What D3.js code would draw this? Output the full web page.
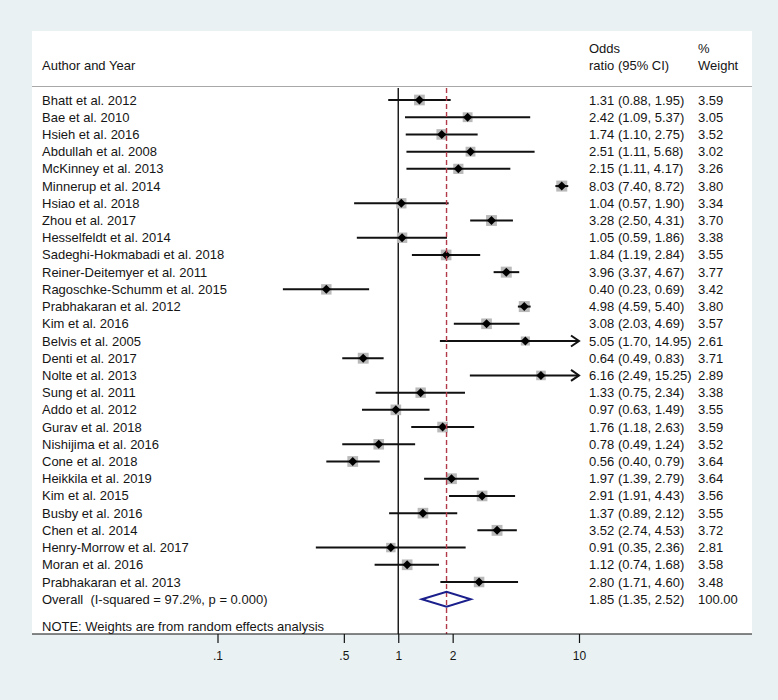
<!DOCTYPE html>
<html>
<head>
<meta charset="utf-8">
<script src="https://cdn.jsdelivr.net/npm/d3@7"></script>
<style>
  html, body { margin: 0; padding: 0; background: #e9f1f3; }
  svg { display: block; }
  text { font-family: "Liberation Sans", Arial, sans-serif; fill: #151515; white-space: pre; }
</style>
</head>
<body>
<svg id="chart" width="778" height="700"></svg>
<script>
const studies = ["Bhatt et al. 2012","Bae et al. 2010","Hsieh et al. 2016","Abdullah et al. 2008","McKinney et al. 2013","Minnerup et al. 2014","Hsiao et al. 2018","Zhou et al. 2017","Hesselfeldt et al. 2014","Sadeghi-Hokmabadi et al. 2018","Reiner-Deitemyer et al. 2011","Ragoschke-Schumm et al. 2015","Prabhakaran et al. 2012","Kim et al. 2016","Belvis et al. 2005","Denti et al. 2017","Nolte et al. 2013","Sung et al. 2011","Addo et al. 2012","Gurav et al. 2018","Nishijima et al. 2016","Cone et al. 2018","Heikkila et al. 2019","Kim et al. 2015","Busby et al. 2016","Chen et al. 2014","Henry-Morrow et al. 2017","Moran et al. 2016","Prabhakaran et al. 2013"];
const oddsRatio = [1.31,2.42,1.74,2.51,2.15,8.03,1.04,3.28,1.05,1.84,3.96,0.40,4.98,3.08,5.05,0.64,6.16,1.33,0.97,1.76,0.78,0.56,1.97,2.91,1.37,3.52,0.91,1.12,2.80];
const lower = [0.88,1.09,1.10,1.11,1.11,7.40,0.57,2.50,0.59,1.19,3.37,0.23,4.59,2.03,1.70,0.49,2.49,0.75,0.63,1.18,0.49,0.40,1.39,1.91,0.89,2.74,0.35,0.74,1.71];
const upper = [1.95,5.37,2.75,5.68,4.17,8.72,1.90,4.31,1.86,2.84,4.67,0.69,5.40,4.69,14.95,0.83,15.25,2.34,1.49,2.63,1.24,0.79,2.79,4.43,2.12,4.53,2.36,1.68,4.60];
const weights = [3.59,3.05,3.52,3.02,3.26,3.80,3.34,3.70,3.38,3.55,3.77,3.42,3.80,3.57,2.61,3.71,2.89,3.38,3.55,3.59,3.52,3.64,3.64,3.56,3.55,3.72,2.81,3.58,3.48];
const overall = {label: "Overall  (I-squared = 97.2%, p = 0.000)", or: 1.85, lo: 1.35, hi: 2.52, w: 100.00};
const tickValues = [0.1, 0.5, 1, 2, 10];
const tickLabels = [".1", ".5", "1", "2", "10"];
const note = "NOTE: Weights are from random effects analysis";

const svg = d3.select("#chart");
const panel = {x0: 32, x1: 752, y0: 31, y1: 634};
const fmt = d3.format(".2f");

// panel
svg.append("rect").attr("x", panel.x0).attr("y", panel.y0)
  .attr("width", panel.x1 - panel.x0).attr("height", panel.y1 - panel.y0).attr("fill", "#fff");

const x = d3.scaleLog().domain([0.1, 10]).range([217.5, 579]);
const y = d3.scaleLinear().domain([0, 28]).range([100, 582]);
const boxSize = d3.scaleSqrt().domain([0, 3.8]).range([0, 11]);

const colOR = 589, colW = 698, colLabel = 42;

// header
svg.append("text").attr("x", colLabel).attr("y", 70).attr("font-size", 13).text("Author and Year");
svg.append("text").attr("x", colOR).attr("y", 53).attr("font-size", 13).text("Odds");
svg.append("text").attr("x", colOR).attr("y", 70).attr("font-size", 13).text("ratio (95% CI)");
svg.append("text").attr("x", colW).attr("y", 53).attr("font-size", 13).text("%");
svg.append("text").attr("x", colW).attr("y", 70).attr("font-size", 13).text("Weight");
svg.append("line").attr("x1", panel.x0).attr("x2", panel.x1).attr("y1", 86.5).attr("y2", 86.5)
  .attr("stroke", "#a8a8a8").attr("stroke-width", 1.2);

// reference line at 1
svg.append("line").attr("x1", x(1)).attr("x2", x(1)).attr("y1", 88).attr("y2", panel.y1)
  .attr("stroke", "#111").attr("stroke-width", 1.4);

const rows = studies.map((s, i) => ({label: s, or: oddsRatio[i], lo: lower[i], hi: upper[i], w: weights[i], i}));
const xmin = 0.1, xmax = 10;

// boxes
svg.append("g").selectAll("rect").data(rows).join("rect")
  .attr("x", d => x(d.or) - boxSize(d.w) / 2)
  .attr("y", d => y(d.i) - boxSize(d.w) / 2)
  .attr("width", d => boxSize(d.w)).attr("height", d => boxSize(d.w))
  .attr("fill", "#b9b9b9");

// CI lines
svg.append("g").selectAll("line").data(rows).join("line")
  .attr("x1", d => x(Math.max(d.lo, xmin)))
  .attr("x2", d => x(Math.min(d.hi, xmax)))
  .attr("y1", d => y(d.i)).attr("y2", d => y(d.i))
  .attr("stroke", "#111").attr("stroke-width", 2);

// arrows for clipped
const arrows = rows.filter(d => d.hi > xmax);
svg.append("g").selectAll("path").data(arrows).join("path")
  .attr("d", d => {
    const xe = x(xmax), yy = y(d.i);
    return `M${xe - 8},${yy - 5.5}L${xe},${yy}L${xe - 8},${yy + 5.5}`;
  })
  .attr("fill", "none").attr("stroke", "#111").attr("stroke-width", 2);

// diamond markers
svg.append("g").selectAll("path").data(rows).join("path")
  .attr("d", d => {
    const cx = x(d.or), cy = y(d.i), r = 4.5;
    return `M${cx - r},${cy}L${cx},${cy - r}L${cx + r},${cy}L${cx},${cy + r}Z`;
  })
  .attr("fill", "#000");

// overall dashed line
svg.append("line").attr("x1", x(overall.or)).attr("x2", x(overall.or)).attr("y1", 88).attr("y2", panel.y1)
  .attr("stroke", "#b03a48").attr("stroke-width", 1.4).attr("stroke-dasharray", "5,3");

// overall diamond
const yo = y(29);
svg.append("path")
  .attr("d", `M${x(overall.lo)},${yo}L${x(overall.or)},${yo - 7.5}L${x(overall.hi)},${yo}L${x(overall.or)},${yo + 7.5}Z`)
  .attr("fill", "none").attr("stroke", "#1a1f8c").attr("stroke-width", 2);

// labels
const allRows = rows.concat([{label: overall.label, or: overall.or, lo: overall.lo, hi: overall.hi, w: overall.w, i: 29}]);
const tg = svg.append("g").attr("font-size", 13);
tg.selectAll("text.lab").data(allRows).join("text").attr("class", "lab")
  .attr("x", colLabel).attr("y", d => y(d.i) + 4.5).text(d => d.label);
tg.selectAll("text.ci").data(allRows).join("text").attr("class", "ci")
  .attr("x", colOR).attr("y", d => y(d.i) + 4.5)
  .text(d => `${fmt(d.or)} (${fmt(d.lo)}, ${fmt(d.hi)})`);
tg.selectAll("text.wt").data(allRows).join("text").attr("class", "wt")
  .attr("x", colW).attr("y", d => y(d.i) + 4.5).text(d => fmt(d.w));

svg.append("text").attr("x", colLabel).attr("y", y(30.6) + 4.5).attr("font-size", 13).text(note);

// axis
svg.append("line").attr("x1", panel.x0).attr("x2", panel.x1).attr("y1", panel.y1).attr("y2", panel.y1)
  .attr("stroke", "#111").attr("stroke-width", 1.2);
const axis = d3.axisBottom(x).tickValues(tickValues).tickFormat((d, i) => tickLabels[i]).tickSize(9).tickSizeOuter(0).tickPadding(8);
const ag = svg.append("g").attr("transform", `translate(0,${panel.y1})`).call(axis);
ag.select(".domain").remove();
ag.selectAll(".tick line").attr("stroke", "#111").attr("stroke-width", 1.2);
ag.selectAll(".tick text").attr("font-size", 12).attr("font-family", "Liberation Sans, Arial, sans-serif").attr("fill", "#222");
</script>
</body>
</html>
